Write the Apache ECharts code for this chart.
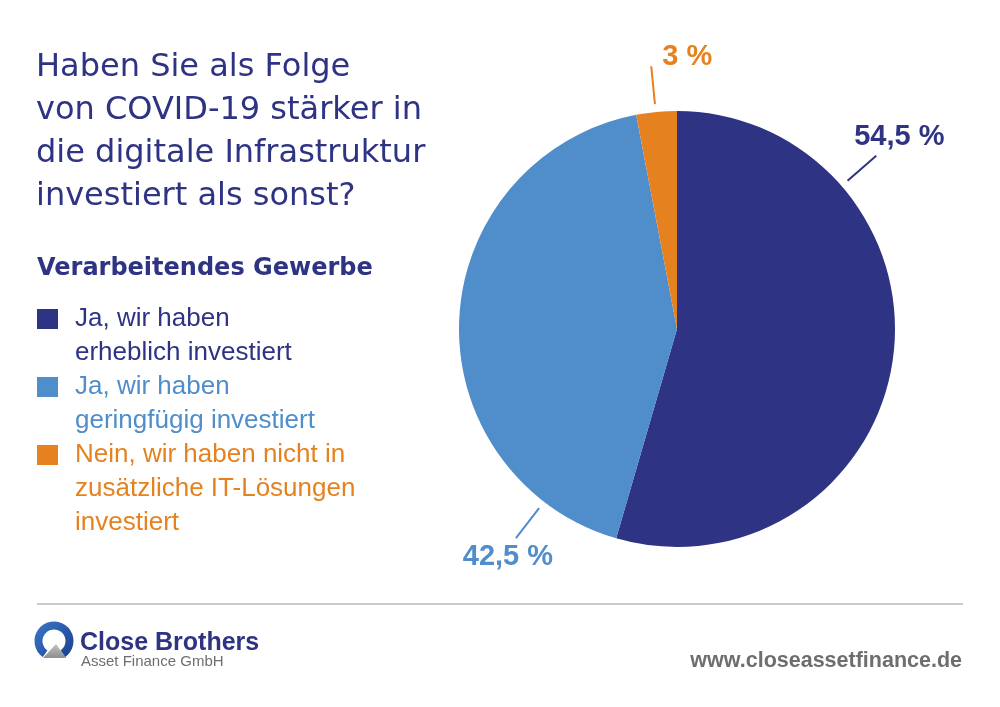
<!DOCTYPE html>
<html>
<head>
<meta charset="utf-8">
<script src="https://cdn.jsdelivr.net/npm/echarts@6/dist/echarts.min.js"></script>
<style>
html,body{margin:0;padding:0;background:#ffffff;}
#chart{width:1000px;height:707px;}
</style>
</head>
<body>
<div id="chart"></div>
<script>
// ---- data ----
const categories = [
  'Ja, wir haben\nerheblich investiert',
  'Ja, wir haben\ngeringfügig investiert',
  'Nein, wir haben nicht in\nzusätzliche IT-Lösungen\ninvestiert'
];
const values = [54.5, 42.5, 3];
const titleText = 'Haben Sie als Folge\nvon COVID-19 stärker in\ndie digitale Infrastruktur\ninvestiert als sonst?';
const subtitleText = 'Verarbeitendes Gewerbe';
const brandName = 'Close Brothers';
const brandSub = 'Asset Finance GmbH';
const website = 'www.closeassetfinance.de';

// ---- style ----
const colors = ['#2e3383', '#4f8dcb', '#e5821f'];
const NAVY = '#2e3383';
const GRAY = '#6d6e70';
const FONT = '"Liberation Sans", Arial, Helvetica, sans-serif';
const FONT_WIDE = '"DejaVu Sans", "Liberation Sans", sans-serif';
const CX = 677, CY = 329, R = 218;
const labelAngles = [49, 217.6, 354.4];           // degrees clockwise from 12 o'clock
const labelOffsets = [[-22, -19, 'left'], [-8, 19, 'center'], [11, -9, 'left']];
const LEG_LINE = 34;
const legendIconTops = [309, 377, 445];
const ICON_OFF = 7;

const chart = echarts.init(document.getElementById('chart'), null, {renderer: 'canvas'});

const pieData = categories.map((name, i) => ({
  name: name,
  value: values[i],
  itemStyle: {color: colors[i]},
  label: {color: colors[i]},
  labelLine: {lineStyle: {color: colors[i], width: 2}}
}));

const legends = categories.map((name, i) => {
  const n = name.split('\n').length;
  const H = n * LEG_LINE;
  // square at the first line, invisible hairlines extend the icon box to the full text height
  const icon = 'path://M0,0h21v0.01h-21z M0,' + ICON_OFF + 'h21v20h-21z M0,' + (H - 0.01) + 'h21v0.01h-21z';
  return {
    left: 37,
    top: legendIconTops[i] - ICON_OFF,
    padding: 0,
    orient: 'vertical',
    icon: icon,
    itemWidth: 21,
    itemHeight: H,
    selectedMode: false,
    data: [{name: name, icon: icon, textStyle: {color: colors[i]}}],
    textStyle: {
      fontSize: 26,
      lineHeight: LEG_LINE,
      fontFamily: FONT,
      padding: [0, 0, 0, 12]
    }
  };
});

const option = {
  backgroundColor: '#ffffff',
  animation: false,
  title: [
    {
      text: titleText,
      left: 36, top: 46, padding: 0,
      textStyle: {fontSize: 32, fontWeight: 'normal', color: NAVY, lineHeight: 43, fontFamily: FONT_WIDE}
    },
    {
      text: subtitleText,
      left: 37, top: 256, padding: 0,
      textStyle: {fontSize: 24, fontWeight: 'bold', color: NAVY, lineHeight: 26, fontFamily: FONT_WIDE}
    }
  ],
  legend: legends,
  series: [{
    type: 'pie',
    center: [CX, CY],
    radius: R,
    startAngle: 90,
    clockwise: true,
    silent: true,
    avoidLabelOverlap: false,
    minShowLabelAngle: 0,
    itemStyle: {borderWidth: 0},
    label: {
      show: true,
      position: 'outside',
      fontSize: 29,
      fontWeight: 'bold',
      fontFamily: FONT,
      formatter: p => String(p.value).replace('.', ',') + ' %'
    },
    labelLine: {show: true, length: 10, length2: 10},
    labelLayout: function (p) {
      const i = p.dataIndex;
      const a = labelAngles[i] * Math.PI / 180;
      const pt = r => [CX + r * Math.sin(a), CY - r * Math.cos(a)];
      const p1 = pt(R + 8), pm = pt(R + 27), p2 = pt(R + 46);
      const o = labelOffsets[i];
      return {
        x: p2[0] + o[0],
        y: p2[1] + o[1],
        align: o[2],
        verticalAlign: 'middle',
        labelLinePoints: [p1, pm, p2]
      };
    },
    data: pieData
  }],
  graphic: [
    {type: 'line', shape: {x1: 37, y1: 604, x2: 963, y2: 604}, style: {stroke: '#cacaca', lineWidth: 2}, silent: true},
    {
      type: 'arc',
      shape: {cx: 54, cy: 641, r: 15.5, startAngle: 125 * Math.PI / 180, endAngle: 415 * Math.PI / 180, clockwise: true},
      style: {
        fill: null,
        lineWidth: 8,
        stroke: new echarts.graphic.LinearGradient(0, 0, 1, 1, [
          {offset: 0, color: '#3b78c8'},
          {offset: 1, color: '#1b3f8f'}
        ])
      },
      silent: true
    },
    {
      type: 'polygon',
      shape: {points: [[43, 658], [56, 644], [66, 658]]},
      style: {
        fill: new echarts.graphic.LinearGradient(0, 0, 0, 1, [
          {offset: 0, color: '#c4c4c4'},
          {offset: 1, color: '#8d8d8d'}
        ])
      },
      silent: true
    },
    {type: 'text', x: 80, y: 643, style: {text: brandName, fill: NAVY, font: 'bold 25px ' + FONT, verticalAlign: 'middle', align: 'left'}, silent: true},
    {type: 'text', x: 81, y: 662, style: {text: brandSub, fill: GRAY, font: '15px ' + FONT, verticalAlign: 'middle', align: 'left'}, silent: true},
    {type: 'text', x: 962, y: 661, style: {text: website, fill: GRAY, font: 'bold 21.5px ' + FONT, verticalAlign: 'middle', align: 'right'}, silent: true}
  ]
};

chart.setOption(option);
</script>
</body>
</html>
